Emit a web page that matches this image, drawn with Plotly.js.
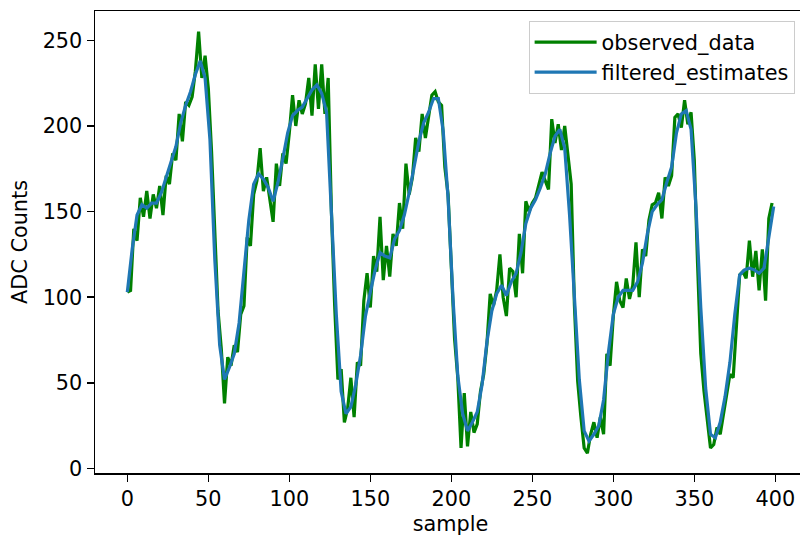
<!DOCTYPE html>
<html>
<head>
<meta charset="utf-8">
<script src="https://cdn.plot.ly/plotly-3.0.1.min.js"></script>
<style>
html, body { margin: 0; padding: 0; overflow: hidden; background: #fff; }
#chart { width: 808px; height: 536px; }
</style>
</head>
<body>
<div id="chart"></div>
<script>
// observed_data, read every 2 samples (sample 0, 2, 4, ... 398)
const observedData = [
  103, 104, 140, 133, 158, 147, 162, 146, 160, 152,
  165, 148, 171, 166, 184, 180, 207, 191, 214, 212,
  217, 232, 255, 228, 241, 222, 185, 132, 92, 70,
  38, 65, 60, 72, 68, 90, 95, 135, 130, 160,
  168, 187, 162, 170, 158, 144, 178, 165, 184, 178,
  196, 218, 200, 215, 207, 213, 228, 206, 236, 210,
  236, 207, 228, 150, 95, 52, 58, 27, 35, 53,
  30, 62, 60, 98, 114, 94, 124, 115, 147, 110,
  130, 112, 137, 130, 155, 140, 178, 160, 170, 193,
  185, 207, 193, 205, 218, 220, 214, 212, 176, 160,
  120, 76, 53, 12, 44, 13, 33, 21, 26, 45,
  55, 73, 102, 95, 104, 125, 100, 89, 117, 115,
  100, 137, 114, 156, 150, 155, 158, 165, 173, 168,
  163, 204, 190, 201, 186, 200, 183, 166, 95, 51,
  30, 12, 9, 20, 27, 18, 30, 20, 67, 60,
  89, 109, 98, 94, 111, 99, 107, 132, 100, 128,
  124, 145, 154, 155, 161, 146, 170, 165, 171, 205,
  207, 199, 215, 201, 208, 180, 120, 67, 45, 29,
  12, 14, 24, 20, 32, 45, 55, 53, 86, 113,
  115, 111, 133, 112, 127, 104, 128, 98, 146, 155
];
const observedSample = observedData.map((_, i) => i * 2);

// filtered_estimates, read every 3 samples (sample 0, 3, 6, ... 399)
const filteredEstimates = [
  103, 128, 148, 154, 152, 155, 155, 161, 170, 179,
  188, 202, 212, 220, 230, 238, 228, 192, 122, 72,
  52, 59, 67, 85, 113, 145, 166, 172, 169, 164,
  156, 167, 181, 196, 206, 209, 211, 216, 221, 224,
  219, 208, 145, 90, 45, 32, 36, 49, 66, 89,
  103, 116, 126, 124, 123, 134, 139, 148, 161, 177,
  191, 202, 208, 216, 216, 197, 158, 100, 54, 32,
  22, 27, 33, 49, 74, 92, 102, 107, 101, 109,
  114, 126, 143, 152, 157, 164, 172, 184, 194, 198,
  187, 148, 97, 52, 22, 16, 20, 25, 40, 68,
  90, 100, 104, 104, 104, 109, 120, 137, 150, 154,
  157, 167, 176, 196, 207, 209, 198, 153, 94, 47,
  20, 18, 27, 42, 62, 90, 113, 116, 117, 116,
  114, 117, 136, 153
];
const filteredSample = filteredEstimates.map((_, i) => i * 3);

const xTicks = [0, 50, 100, 150, 200, 250, 300, 350, 400];
const yTicks = [0, 50, 100, 150, 200, 250];

const FONT = 'DejaVu Sans, Liberation Sans, sans-serif';
const FS = 20.8;

const traces = [
  {
    x: observedSample, y: observedData, name: 'observed_data',
    type: 'scatter', mode: 'lines',
    line: { color: '#008000', width: 3.2 }
  },
  {
    x: filteredSample, y: filteredEstimates, name: 'filtered_estimates',
    type: 'scatter', mode: 'lines',
    line: { color: '#1f77b4', width: 3.2 }
  }
];

const layout = {
  width: 808, height: 536,
  margin: { l: 94.65, r: 1.6, t: 10.7, b: 63.3 },
  paper_bgcolor: '#ffffff', plot_bgcolor: '#ffffff',
  font: { family: FONT, size: FS, color: '#000000' },
  showlegend: true,
  legend: {
    x: 0.984, y: 0.978, xanchor: 'right', yanchor: 'top',
    bgcolor: 'rgba(255,255,255,0.8)', bordercolor: '#cccccc', borderwidth: 1,
    font: { family: FONT, size: FS, color: '#000000' },
    itemwidth: 62,
    tracegroupgap: 0
  },
  xaxis: {
    range: [-19.95, 418.95],
    tickvals: xTicks, ticktext: xTicks.map(String),
    ticks: 'outside', ticklen: 7, tickwidth: 1.5, tickcolor: '#000',
    showline: true, linecolor: '#000', linewidth: 1.5, mirror: true,
    showgrid: false, zeroline: false,
    tickfont: { family: FONT, size: FS, color: '#000' },
    title: { text: 'sample', font: { family: FONT, size: FS, color: '#000' }, standoff: 12 }
  },
  yaxis: {
    range: [-2.6, 267.1],
    tickvals: yTicks, ticktext: yTicks.map(String),
    ticks: 'outside', ticklen: 7, tickwidth: 1.5, tickcolor: '#000',
    showline: true, linecolor: '#000', linewidth: 1.5, mirror: true,
    showgrid: false, zeroline: false,
    tickfont: { family: FONT, size: FS, color: '#000' },
    title: { text: 'ADC Counts', font: { family: FONT, size: FS, color: '#000' }, standoff: 9 }
  }
};

Plotly.newPlot('chart', traces, layout, { displayModeBar: false, staticPlot: true });
</script>
</body>
</html>
